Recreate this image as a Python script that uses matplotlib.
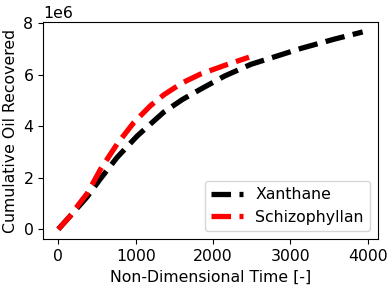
import matplotlib
matplotlib.use("Agg")
import matplotlib.pyplot as plt

# values
t_xan = [0, 150, 371, 544, 760, 1019, 1364, 1600, 1834, 2150, 2487, 3135, 3566, 3934]
oil_xan = [0, 0.5e6, 1.25e6, 1.96e6, 2.79e6, 3.62e6, 4.55e6, 5.03e6, 5.43e6, 5.95e6, 6.40e6, 7.02e6, 7.38e6, 7.66e6]

t_sch = [0, 150, 285, 371, 458, 544, 760, 975, 1192, 1364, 1600, 1834, 2185, 2465]
oil_sch = [0, 0.5e6, 1.05e6, 1.38e6, 1.85e6, 2.32e6, 3.31e6, 4.14e6, 4.80e6, 5.22e6, 5.68e6, 6.02e6, 6.40e6, 6.68e6]

plt.rcParams["font.size"] = 11.3

fig, ax = plt.subplots(figsize=(3.92, 2.87), dpi=100)
ax.plot(t_xan, oil_xan, "k--", linewidth=3.8, label="Xanthane")
ax.plot(t_sch, oil_sch, "r--", linewidth=3.8, label="Schizophyllan")
ax.set_xlabel("Non-Dimensional Time [-]")
ax.set_ylabel("Cumulative Oil Recovered")
ax.set_yticks([0, 2e6, 4e6, 6e6, 8e6])
ax.set_xticks([0, 1000, 2000, 3000, 4000])
ax.legend(loc="lower right")
fig.subplots_adjust(left=0.11, right=0.964, top=0.923, bottom=0.167)
fig.savefig("out.png")
